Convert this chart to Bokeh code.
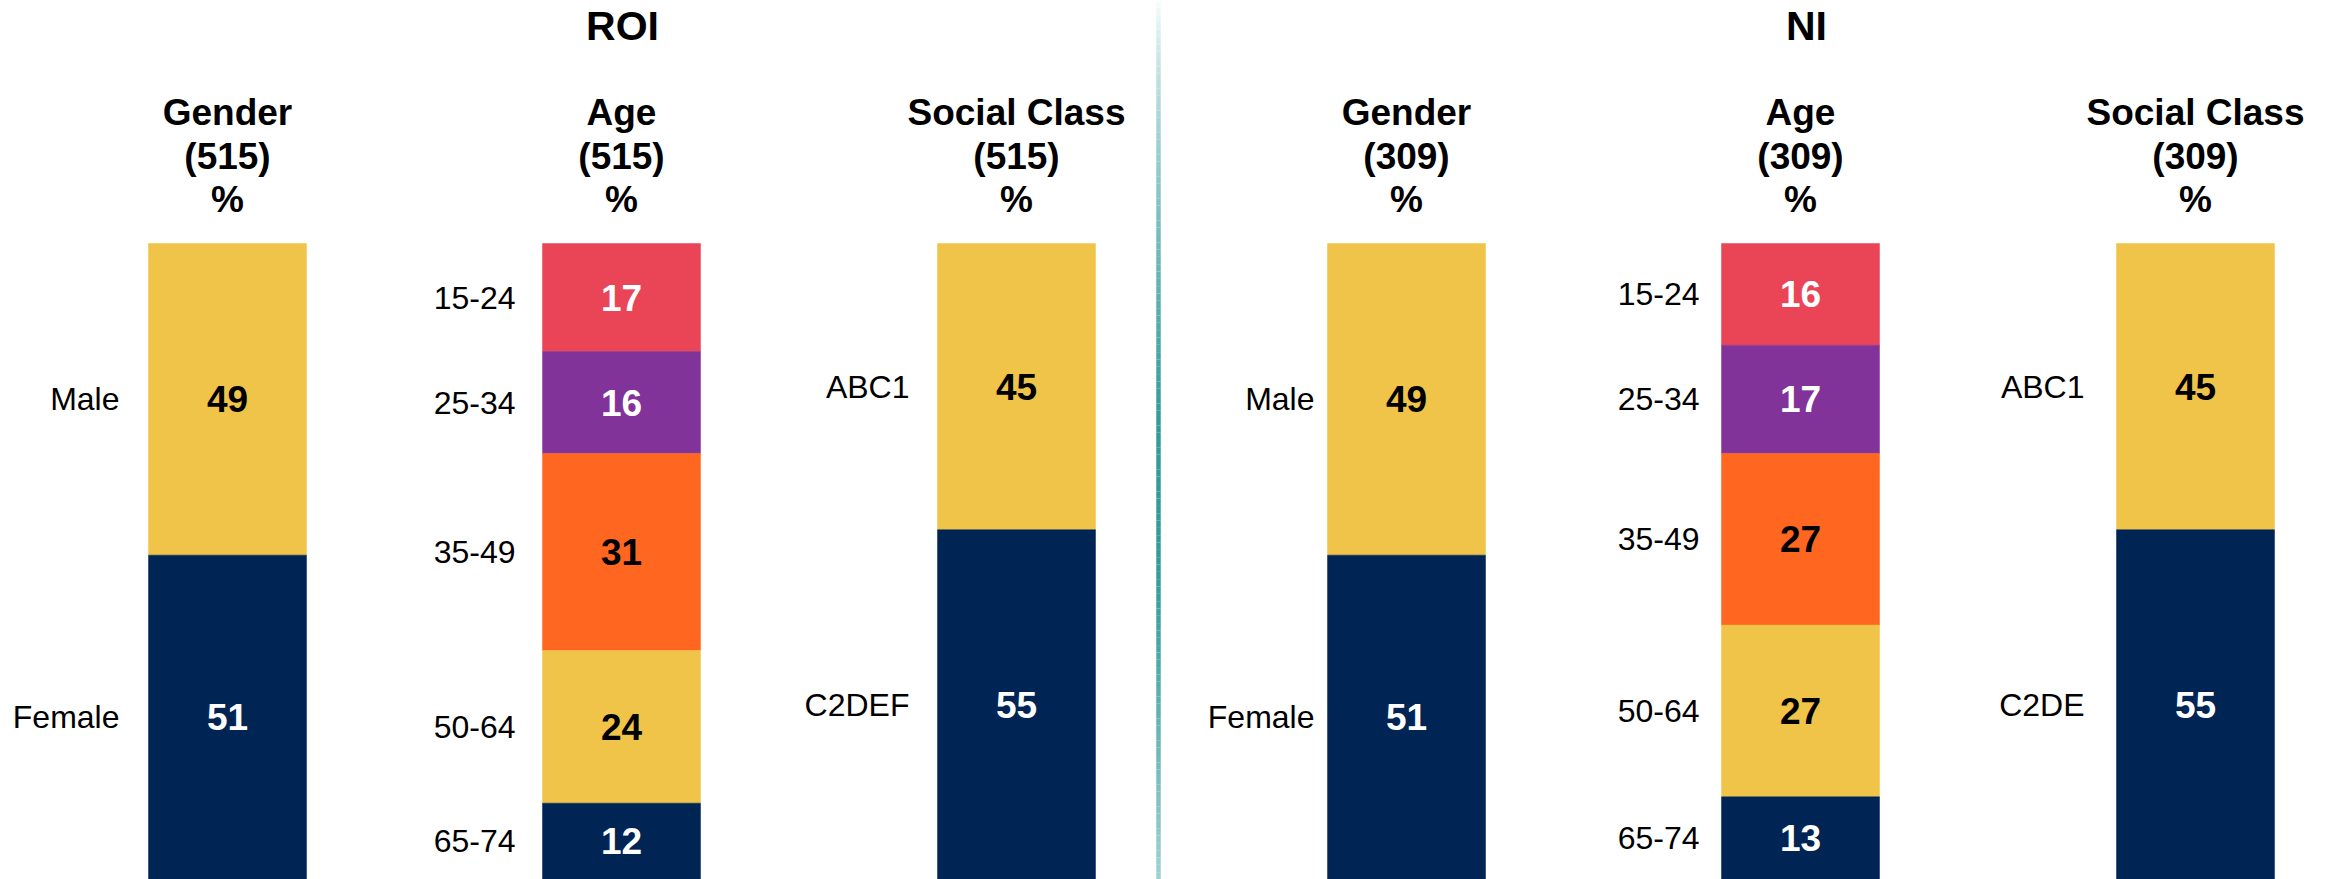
import numpy as np
from bokeh.plotting import figure
from bokeh.models import Range1d, ColumnDataSource
from bokeh.core.properties import value
from bokeh.embed import file_html
from bokeh.resources import INLINE

# ---------------- data ----------------
regions = ["ROI", "NI"]
panel_titles = ["Gender", "Age", "Social Class"]
bases = {"ROI": [515, 515, 515], "NI": [309, 309, 309]}

gender_cats = ["Male", "Female"]
age_cats = ["15-24", "25-34", "35-49", "50-64", "65-74"]
roi_social_cats = ["ABC1", "C2DEF"]
ni_social_cats = ["ABC1", "C2DE"]

roi_gender = [49, 51]
roi_age = [17, 16, 31, 24, 12]
roi_social = [45, 55]
ni_gender = [49, 51]
ni_age = [16, 17, 27, 27, 13]
ni_social = [45, 55]

# ---------------- styles / layout ----------------
YELLOW = "#F0C349"
NAVY = "#002454"
RED = "#E94557"
PURPLE = "#823399"
ORANGE = "#FF6720"
gender_colors = [YELLOW, NAVY]
age_colors = [RED, PURPLE, ORANGE, YELLOW, NAVY]
social_colors = [YELLOW, NAVY]
dark_fills = {NAVY, RED, PURPLE}

FONT = "Liberation Sans"
W, H = 2330, 879
BAR_TOP_PX = 243
PX_PER_PCT = (H - BAR_TOP_PX) / 100.0


def ypct(px):
    return (px - BAR_TOP_PX) / PX_PER_PCT


centers = [227, 621, 1016, 1406, 1800, 2195]
label_right = [119, 515, 909, 1314, 1699, 2084]
title_x = [622, 1806]
bar_w = 158

panels = [
    (gender_cats, roi_gender, gender_colors),
    (age_cats, roi_age, age_colors),
    (roi_social_cats, roi_social, social_colors),
    (gender_cats, ni_gender, gender_colors),
    (age_cats, ni_age, age_colors),
    (ni_social_cats, ni_social, social_colors),
]

p = figure(width=W, height=H, output_backend="svg", toolbar_location=None,
           x_range=Range1d(0, W), y_range=Range1d(100, ypct(0)),
           min_border=0, outline_line_color=None, background_fill_color="white",
           border_fill_color="white")
p.axis.visible = False
p.grid.visible = False

bars = dict(x=[], top=[], bottom=[], color=[], val=[], ymid=[], tcolor=[])
labs = dict(x=[], y=[], text=[])
for i, (cats, vals, cols) in enumerate(panels):
    cum = 0
    for c, v, col in zip(cats, vals, cols):
        bars["x"].append(centers[i])
        bars["top"].append(cum)
        bars["bottom"].append(cum + v)
        bars["color"].append(col)
        bars["val"].append(str(v))
        bars["ymid"].append(cum + v / 2)
        bars["tcolor"].append("white" if col in dark_fills else "black")
        labs["x"].append(label_right[i])
        labs["y"].append(cum + v / 2)
        labs["text"].append(c)
        cum += v

src = ColumnDataSource(bars)
p.vbar(x="x", top="top", bottom="bottom", width=bar_w, fill_color="color",
       line_color="color", line_width=0.5, source=src)
p.text(x="x", y="ymid", text="val", text_color="tcolor", source=src,
       text_font=value(FONT), text_font_style="bold", text_font_size="37px",
       text_align="center", text_baseline="middle")

p.text(x="x", y="y", text="text", source=ColumnDataSource(labs),
       text_font=value(FONT), text_font_size="32px", text_color="black",
       text_align="right", text_baseline="middle")

# headers
hx, hy, ht = [], [], []
line_px = [112, 156, 199]
for r_i, reg in enumerate(regions):
    for j, t in enumerate(panel_titles):
        cx = centers[r_i * 3 + j]
        for lp, s in zip(line_px, [t, f"({bases[reg][j]})", "%"]):
            hx.append(cx)
            hy.append(ypct(lp))
            ht.append(s)
p.text(x=hx, y=hy, text=ht, text_font=value(FONT), text_font_style="bold",
       text_font_size="37px", text_color="black", text_align="center",
       text_baseline="middle")

# region titles
p.text(x=title_x, y=[ypct(25)] * 2, text=regions, text_font=value(FONT),
       text_font_style="bold", text_font_size="41px", text_color="black",
       text_align="center", text_baseline="middle")

# gradient divider
n = 120
edges = np.linspace(0, H, n + 1)
teal = np.array([0x33, 0x9B, 0x9B])
white = np.array([255, 255, 255])
x0s, y0s, x1s, y1s, cols = [], [], [], [], []
for k in range(n):
    mid = (edges[k] + edges[k + 1]) / 2
    if mid < 420:
        t = (mid / 420) ** 0.7
    elif mid < 560:
        t = 1.0
    else:
        t = 1 - 0.55 * ((mid - 560) / (H - 560)) ** 1.2
    t = max(0.0, min(1.0, t))
    c = (white * (1 - t) + teal * t).astype(int)
    x0s.append(1158)
    x1s.append(1158)
    y0s.append(ypct(edges[k]))
    y1s.append(ypct(edges[k + 1]))
    cols.append("#%02x%02x%02x" % tuple(c))
p.segment(x0=x0s, y0=y0s, x1=x1s, y1=y1s, line_color=cols, line_width=4.5)

open("out.html", "w").write(file_html(p, INLINE))
